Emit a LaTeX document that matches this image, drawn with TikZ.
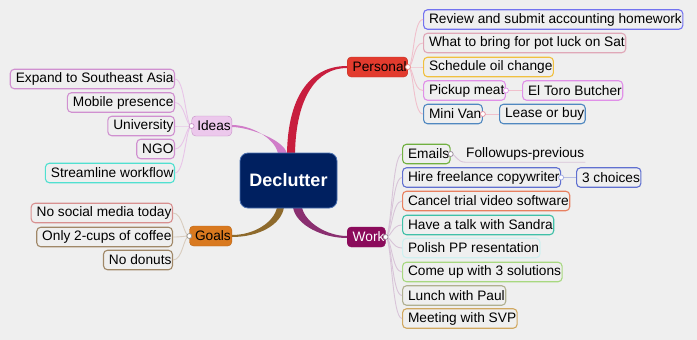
\documentclass[tikz,border=0pt]{standalone}
\usepackage{fontspec}
\setmainfont{Liberation Sans}
\usetikzlibrary{positioning,calc,backgrounds}
\definecolor{bg}{HTML}{EFEFEF}
\definecolor{hubfill}{HTML}{002060}
\definecolor{hubedge}{HTML}{4A70B0}
\definecolor{persfill}{HTML}{E23B2E}
\definecolor{persbr}{HTML}{C81E3E}
\definecolor{ideafill}{HTML}{ECC8EC}
\definecolor{ideaedge}{HTML}{C890C8}
\definecolor{ideabr}{HTML}{D07CC8}
\definecolor{goalfill}{HTML}{D9791F}
\definecolor{goalbr}{HTML}{8E6A2C}
\definecolor{workfill}{HTML}{8B0B5B}
\definecolor{workbr}{HTML}{8A2F70}
\definecolor{plc}{HTML}{F0C0CC}
\definecolor{ilc}{HTML}{E8C4E8}
\definecolor{glc}{HTML}{D8CCBE}
\definecolor{wlc}{HTML}{D8C4D8}
\definecolor{cRev}{HTML}{7373F0}
\definecolor{cWhat}{HTML}{E0A8B8}
\definecolor{cSch}{HTML}{F0C040}
\definecolor{cPick}{HTML}{E090E8}
\definecolor{cVan}{HTML}{5088C0}
\definecolor{cEm}{HTML}{70B040}
\definecolor{cHire}{HTML}{6070D0}
\definecolor{cCan}{HTML}{E88060}
\definecolor{cSan}{HTML}{40C0A8}
\definecolor{cPol}{HTML}{CFF0F0}
\definecolor{cCome}{HTML}{A8D880}
\definecolor{cLun}{HTML}{B0B090}
\definecolor{cMeet}{HTML}{D0A860}
\definecolor{cIdea}{HTML}{D090D0}
\definecolor{cStr}{HTML}{50E0D0}
\definecolor{cSoc}{HTML}{D89090}
\definecolor{cCof}{HTML}{A08868}

\tikzset{
 sub/.style={draw=#1,rounded corners=4pt,line width=1.1pt,inner xsep=1pt,inner ysep=0pt,minimum height=19.5pt,execute at begin node=\hspace*{4.5pt}},
 mainbox/.style={fill=#1,rounded corners=4pt,inner xsep=1pt,inner ysep=0pt,minimum height=20pt,execute at begin node=\hspace*{4.5pt}},
 dot/.style={circle,draw=#1,fill=white,inner sep=0pt,minimum size=5pt,line width=0.7pt},
 twig/.style={draw=#1,line width=0.9pt,to path={.. controls +(6,0) and +(-10,0) .. (\tikztotarget)}},
 ltwig/.style={draw=#1,line width=0.9pt,to path={.. controls +(-6,0) and +(10,0) .. (\tikztotarget)}},
}

\begin{document}
\begin{tikzpicture}[x=1pt,y=-1pt,font=\fontsize{13.7}{16}\selectfont]
\useasboundingbox (0,0) rectangle (697,340);
% centre and main topics
\node[fill=hubfill,draw=hubedge,line width=0.8pt,rounded corners=8pt,minimum width=97pt,minimum height=55pt,text=white,font=\fontsize{18}{20}\selectfont\bfseries] (hub) at (288.5,180.5) {Declutter};
\node[mainbox=persfill,draw=persfill!85!black,anchor=west] (pers) at (347,67) {Personal};
\node[mainbox=ideafill,draw=ideaedge,anchor=east] (idea) at (232,126) {Ideas};
\node[mainbox=goalfill,draw=goalfill!85!black,anchor=east] (goal) at (232,236) {Goals};
\node[mainbox=workfill,draw=workfill,text=white,anchor=west] (work) at (347,237) {Work};

% personal
\foreach \n/\y/\t/\c in {rv/19.5/Review and submit accounting homework/cRev,wb/43/What to bring for pot luck on Sat/cWhat,so/67/Schedule oil change/cSch,pm/90.5/Pickup meat/cPick,mv/114/Mini Van/cVan}{
 \node[sub=\c,anchor=west] (\n) at (423,\y) {\t};
 \draw[twig=plc] (pers.east) to (\n.west);
}
\node[sub=cPick,anchor=west] (etb) at (522,90.5) {El Toro Butcher};
\node[sub=cVan,anchor=west] (lb) at (499,114) {Lease or buy};
\draw[plc,line width=0.9pt] (pm.east) -- (etb.west);
\draw[plc,line width=0.9pt] (mv.east) -- (lb.west);

% work
\foreach \n/\y/\t/\c in {em/154/Emails/cEm,hf/177.5/Hire freelance copywriter/cHire,ct/201/Cancel trial video software/cCan,ts/225/Have a talk with Sandra/cSan,pp/248/Polish PP resentation/cPol,cu/272/Come up with 3 solutions/cCome,lp/295.5/Lunch with Paul/cLun,ms/318.5/Meeting with SVP/cMeet}{
 \node[sub=\c,anchor=west] (\n) at (402,\y) {\t};
 \draw[twig=wlc] (work.east) to (\n.west);
}
\node[inner xsep=1pt,inner ysep=0pt,minimum height=16pt,anchor=west] (fol) at (465,154) {Followups-previous};
\node[sub=cHire,anchor=west] (tc) at (576,177.5) {3 choices};
\draw[wlc,line width=0.9pt] (em.east) .. controls +(5,0) and +(-8,0) .. (fol.south west) -- (fol.south east);
\draw[cHire!40!bg,line width=0.9pt] (hf.east) -- (tc.west);

% ideas
\foreach \n/\y/\t/\c in {ex/79/Expand to Southeast Asia/cIdea,mp/102.5/Mobile presence/cIdea,un/126/University/cIdea,ng/149/NGO/cIdea,sw/173/Streamline workflow/cStr}{
 \node[sub=\c,anchor=east] (\n) at (175,\y) {\t};
 \draw[ltwig=ilc] (idea.west) to (\n.east);
}

% goals
\foreach \n/\y/\t/\c in {sm/213/No social media today/cSoc,oc/237/Only 2-cups of coffee/cCof,nd/260/No donuts/cCof}{
 \node[sub=\c,anchor=east] (\n) at (173,\y) {\t};
 \draw[ltwig=glc] (goal.west) to (\n.east);
}

% dots
\node[dot=persfill!60!white] (pdot) at (pers.east) {};
\node[dot=ideaedge] (idot) at (idea.west) {};
\node[dot=glc!70!black] (gdot) at (goal.west) {};
\node[dot=wlc!70!black] (wdot) at (work.east) {};
\node[dot=cPick] (pmdot) at (pm.east) {};
\node[dot=persbr!50!white] (mvdot) at (mv.east) {};
\node[dot=wlc!70!black] (emdot) at (em.east) {};
\node[dot=cHire!60!white] (hfdot) at (hf.east) {};

% tapered branches behind the topics
\begin{scope}[on background layer]
\fill[bg] (0,0) rectangle (697,340);
\fill[persbr] ($(hub.north)+(-1.5,1)$) .. controls +(1,-60) and +(-35,0) .. ($(pers.west)+(0,-1)$) -- ($(pers.west)+(0,1)$) .. controls +(-30,0) and +(1,-57) .. ($(hub.north)+(6.5,1)$) -- cycle;
\fill[ideabr] ($(hub.north)+(-10.5,1)$) .. controls +(-3,-16) and +(18,0) .. ($(idea.east)+(0,-1)$) -- ($(idea.east)+(0,1)$) .. controls +(16,0) and +(-3,-14) .. ($(hub.north)+(-1.5,1)$) -- cycle;
\fill[goalbr] ($(hub.south)+(-11.5,-1)$) .. controls +(-3,15) and +(22,0) .. ($(goal.east)+(0,-1)$) -- ($(goal.east)+(0,1)$) .. controls +(26,0) and +(-3,18) .. ($(hub.south)+(-4.5,-1)$) -- cycle;
\fill[workbr] ($(hub.south)+(4.5,-1)$) .. controls +(3,18) and +(-24,0) .. ($(work.west)+(0,1)$) -- ($(work.west)+(0,-1)$) .. controls +(-20,0) and +(3,15) .. ($(hub.south)+(13.5,-1)$) -- cycle;
\end{scope}
\end{tikzpicture}
\end{document}
